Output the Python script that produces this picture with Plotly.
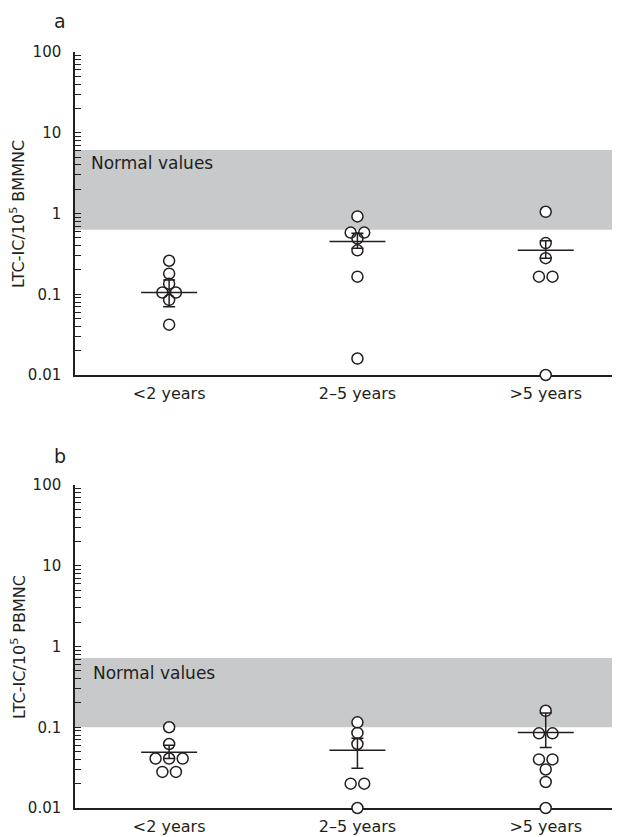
import plotly.graph_objects as go

# ---------------- data ----------------
categories = ["<2 years", "2–5 years", ">5 years"]
tick_values = [0.01, 0.1, 1, 10, 100]
tick_labels = ["0.01", "0.1", "1", "10", "100"]

# Panel a: LTC-IC / 10^5 BMMNC
bm_lt2 = [0.26, 0.18, 0.135, 0.105, 0.105, 0.085, 0.042]
bm_2to5 = [0.92, 0.58, 0.58, 0.49, 0.35, 0.165, 0.016]
bm_gt5 = [1.05, 0.43, 0.28, 0.165, 0.165, 0.01]
bm_mean = [0.105, 0.45, 0.35]
bm_upper = [0.15, 0.57, 0.46]
bm_lower = [0.07, 0.37, 0.28]
bm_normal = [0.63, 6.1]

# Panel b: LTC-IC / 10^5 PBMNC
pb_lt2 = [0.1, 0.062, 0.041, 0.041, 0.041, 0.028, 0.028]
pb_2to5 = [0.115, 0.085, 0.062, 0.02, 0.02, 0.01]
pb_gt5 = [0.16, 0.084, 0.084, 0.04, 0.04, 0.03, 0.021, 0.01]
pb_mean = [0.049, 0.052, 0.086]
pb_upper = [0.06, 0.073, 0.15]
pb_lower = [0.041, 0.031, 0.056]
pb_normal = [0.1, 0.72]

# ---------------- styling ----------------
INK = "#231f20"
BAND = "#c8c9cb"
FONT = "DejaVu Sans, Verdana, sans-serif"
STEP = 0.072  # horizontal spread for tied values (x units)

W, H = 620, 837
OFF = 8  # page body margin in the browser


def fx(px):
    return (px - OFF) / W


def fy(py):
    return 1 - (py - OFF) / H


def dodge(vals, step=STEP):
    """Spread identical values symmetrically around the category centre."""
    counts = {}
    for v in vals:
        counts[v] = counts.get(v, 0) + 1
    seen = {}
    offs = []
    for v in vals:
        n = counts[v]
        i = seen.get(v, 0)
        seen[v] = i + 1
        offs.append((i - (n - 1) / 2) * step)
    return offs


fig = go.Figure()

panels = [
    ("x", "y", [bm_lt2, bm_2to5, bm_gt5], bm_mean, bm_upper, bm_lower),
    ("x2", "y2", [pb_lt2, pb_2to5, pb_gt5], pb_mean, pb_upper, pb_lower),
]

for xa, ya, groups, means, ups, lows in panels:
    xs, ys = [], []
    for gi, g in enumerate(groups):
        for off, v in zip(dodge(g), g):
            xs.append(gi + off)
            ys.append(v)
    # white fills
    fig.add_trace(go.Scatter(
        x=xs, y=ys, xaxis=xa, yaxis=ya, mode="markers",
        marker=dict(symbol="circle", size=11, color="white",
                    line=dict(width=0)),
        cliponaxis=False, showlegend=False, hoverinfo="skip"))
    # outlines
    fig.add_trace(go.Scatter(
        x=xs, y=ys, xaxis=xa, yaxis=ya, mode="markers",
        marker=dict(symbol="circle-open", size=11, color=INK,
                    line=dict(width=1.5, color=INK)),
        cliponaxis=False, showlegend=False))
    # mean + SEM
    fig.add_trace(go.Scatter(
        x=list(range(len(means))), y=means, xaxis=xa, yaxis=ya,
        mode="markers",
        marker=dict(symbol="line-ew", size=40, color=INK,
                    line=dict(width=1.5, color=INK)),
        error_y=dict(type="data", symmetric=False,
                     array=[u - m for u, m in zip(ups, means)],
                     arrayminus=[m - l for m, l in zip(means, lows)],
                     color=INK, thickness=1.5, width=6),
        cliponaxis=False, showlegend=False))

x_dom = [fx(75), 1.0]
ya_dom = [fy(375), fy(52)]
yb_dom = [fy(808), fy(485)]

minor_vals = [m * 10 ** e for e in range(-2, 2) for m in range(2, 10)]

xcommon = dict(
    range=[-0.5, 2.437], showline=True, linecolor=INK, linewidth=1.5,
    showgrid=False, zeroline=False, ticks="", tickvals=[0, 1, 2],
    ticktext=categories, tickfont=dict(family=FONT, size=16, color=INK),
    ticklabelstandoff=3, layer="below traces", fixedrange=True,
    automargin=False,
)
ycommon = dict(
    type="log", range=[-2, 2], showline=True, linecolor=INK, linewidth=1.5,
    showgrid=False, zeroline=False, ticks="inside", ticklen=6,
    tickwidth=1, tickcolor=INK, tickvals=tick_values, ticktext=tick_labels,
    tickfont=dict(family=FONT, size=15, color=INK), ticklabelstandoff=9,
    minor=dict(tickvals=minor_vals, ticks="inside", ticklen=6,
               tickwidth=1, tickcolor=INK, showgrid=False),
    layer="below traces", fixedrange=True, automargin=False,
)

fig.update_layout(
    width=W, height=H, autosize=False,
    margin=dict(l=0, r=0, t=0, b=0, pad=0),
    paper_bgcolor="white", plot_bgcolor="white",
    font=dict(family=FONT, color=INK),
    xaxis=dict(domain=x_dom, anchor="y", **xcommon),
    yaxis=dict(domain=ya_dom, anchor="x", **ycommon),
    xaxis2=dict(domain=x_dom, anchor="y2", **xcommon),
    yaxis2=dict(domain=yb_dom, anchor="x2", **ycommon),
    shapes=[
        dict(type="rect", xref="x domain", yref="y", x0=0, x1=1,
             y0=bm_normal[0], y1=bm_normal[1], fillcolor=BAND,
             line=dict(width=0), layer="below"),
        dict(type="rect", xref="x2 domain", yref="y2", x0=0, x1=1,
             y0=pb_normal[0], y1=pb_normal[1], fillcolor=BAND,
             line=dict(width=0), layer="below"),
    ],
    annotations=[
        dict(text="Normal values", xref="x domain", yref="y domain",
             x=0.026, y=0.656, xanchor="left", yanchor="middle",
             showarrow=False, font=dict(family=FONT, size=17, color=INK)),
        dict(text="Normal values", xref="x2 domain", yref="y2 domain",
             x=0.029, y=0.418, xanchor="left", yanchor="middle",
             showarrow=False, font=dict(family=FONT, size=17, color=INK)),
        dict(text="LTC-IC/10<sup>5</sup> BMMNC", xref="paper", yref="paper",
             x=fx(18), y=fy(214), textangle=-90, showarrow=False,
             xanchor="center", yanchor="middle",
             font=dict(family=FONT, size=16, color=INK)),
        dict(text="LTC-IC/10<sup>5</sup> PBMNC", xref="paper", yref="paper",
             x=fx(18), y=fy(647), textangle=-90, showarrow=False,
             xanchor="center", yanchor="middle",
             font=dict(family=FONT, size=16, color=INK)),
        dict(text="a", xref="paper", yref="paper", x=fx(60), y=1.0,
             showarrow=False, xanchor="center", yanchor="top",
             font=dict(family=FONT, size=19, color=INK)),
        dict(text="b", xref="paper", yref="paper", x=fx(60), y=fy(456),
             showarrow=False, xanchor="center", yanchor="middle",
             font=dict(family=FONT, size=19, color=INK)),
    ],
)

fig.write_html("out.html")
